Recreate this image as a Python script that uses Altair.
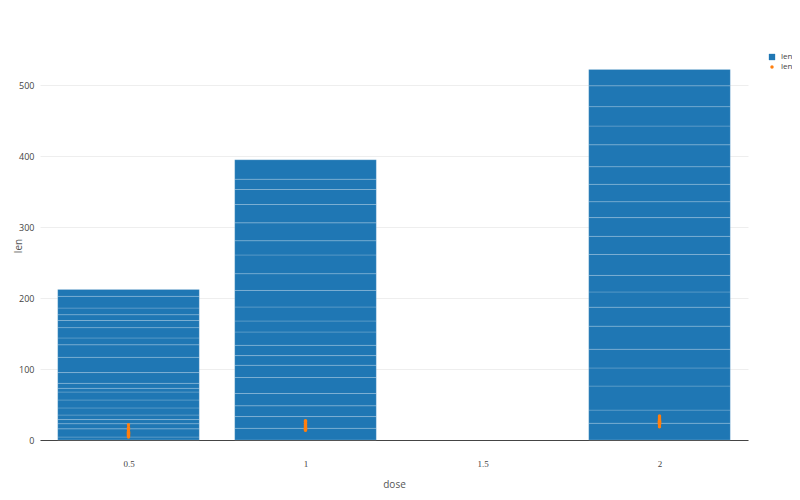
import altair as alt
import pandas as pd

# ToothGrowth len values read per dose (stacking order as in data)
dose_05 = [4.2, 11.5, 7.3, 5.8, 6.4, 10.0, 11.2, 11.2, 5.2, 7.0,
           15.2, 21.5, 17.6, 9.7, 14.5, 10.0, 8.2, 9.4, 16.5, 9.7]
dose_1 = [16.5, 16.5, 15.2, 17.3, 22.5, 17.3, 13.6, 14.5, 18.8, 15.5,
          19.7, 23.3, 23.6, 26.4, 20.0, 25.2, 25.8, 21.2, 14.5, 27.3]
dose_2 = [23.6, 18.5, 33.9, 25.5, 26.4, 32.5, 26.7, 21.5, 23.3, 29.5,
          25.5, 26.4, 22.4, 24.5, 24.8, 30.9, 26.4, 27.3, 29.4, 23.0]
doses = [0.5, 1, 2]
x_ticks = [0.5, 1, 1.5, 2]
y_ticks = [0, 100, 200, 300, 400, 500]

rows = []
i = 0
for d, vals in zip(doses, [dose_05, dose_1, dose_2]):
    for v in vals:
        rows.append({"dose": d, "len": v, "idx": i})
        i += 1
df = pd.DataFrame(rows)

BLUE = "#1f77b4"
ORANGE = "#ff7f0e"
FONT = "Open Sans"

xscale = alt.Scale(domain=[0.25, 2.25], nice=False, zero=False, padding=0)
yscale = alt.Scale(domain=[0, 548], nice=False, padding=0)

leg = dict(title=None, orient="none", legendX=728, legendY=2, labelExpr="'len'",
           labelFont=FONT, labelFontSize=8, labelColor="#444", rowPadding=2,
           labelOffset=5, symbolStrokeWidth=0)

color = alt.Color(
    "series:N",
    scale=alt.Scale(domain=["bar", "point"], range=[BLUE, ORANGE]),
    legend=alt.Legend(**leg),
)
shape = alt.Shape(
    "series:N",
    scale=alt.Scale(domain=["bar", "point"], range=["square", "circle"]),
    legend=alt.Legend(**leg),
)
size = alt.Size(
    "series:N",
    scale=alt.Scale(domain=["bar", "point"], range=[40, 12]),
    legend=alt.Legend(**leg),
)

bars = alt.Chart(df).transform_calculate(
    series="'bar'", x0="datum.dose - 0.2", x1="datum.dose + 0.2"
).mark_bar(stroke="white", strokeWidth=0.6, strokeOpacity=0.3).encode(
    x=alt.X("x0:Q", scale=xscale,
            axis=alt.Axis(values=x_ticks, title="dose", grid=False, ticks=False,
                          domain=True, domainColor="#444", labelPadding=19,
                          labelExpr="format(datum.value, '~g')",
                          labelFont="Liberation Serif", labelFontSize=9,
                          titlePadding=11)),
    x2="x1:Q",
    y=alt.Y("sum(len):Q", scale=yscale, stack="zero",
            axis=alt.Axis(values=y_ticks, title="len", ticks=False, domain=False,
                          gridColor="#eee", labelPadding=6, titleX=-17)),
    detail="idx:N",
    order=alt.Order("idx:Q", sort="ascending"),
    color=color,
)

points = alt.Chart(df).transform_calculate(series="'point'").mark_point(
    filled=True, opacity=1
).encode(
    x=alt.X("dose:Q", scale=xscale),
    y=alt.Y("len:Q", scale=yscale),
    color=color,
    shape=shape,
    size=size,
)

chart = alt.layer(bars, points).properties(
    width=708, height=389,
    autosize=alt.AutoSizeParams(type="none"),
    padding={"left": 32, "top": 43, "right": 44, "bottom": 52},
).configure_axis(
    labelFont=FONT, labelFontSize=9, labelColor="#444",
    titleFont=FONT, titleFontSize=10, titleColor="#555", titleFontWeight="normal",
).configure_view(stroke=None)

chart.save("out.html", embed_options={"renderer": "svg", "actions": False})
